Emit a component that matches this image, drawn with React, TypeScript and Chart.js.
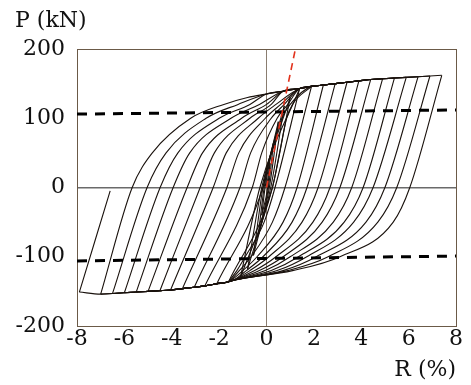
import React, { useEffect, useRef } from 'react';
import { Chart, registerables } from 'chart.js';

Chart.register(...registerables);

// ---- axes ----
const xMin = -8, xMax = 8, xStep = 2;
const yMin = -200, yMax = 200, yStep = 100;
const xTitle = 'R (%)';
const yTitle = 'P (kN)';

// ---- small initial cycles ----
const smallPosR = [0.15, 0.3, 0.5, 0.75, 1.0];
const smallPosP = [35, 65, 95, 118, 130];
const smallNegR = [-0.2, -0.35, -0.55, -0.8, -1.1];
const smallNegP = [-40, -70, -98, -118, -130];
const smallDescZeroR = [0.05, 0.08, 0.12, 0.18, 0.25];
const smallAscZeroR = [-0.06, -0.1, -0.15, -0.2, -0.28];

// ---- large cycles: positive peaks and descending (unloading) branch ----
const posPeakR = [1.4, 1.9, 2.4, 2.9, 3.4, 3.9, 4.4, 4.9, 5.4, 5.9, 6.4, 6.9, 7.4];
const posPeakP = [143, 146, 148, 150, 152, 154, 156, 157, 158, 159, 160, 161, 162];
const descZeroR = [0.36, 0.78, 1.29, 1.71, 2.18, 2.68, 3.1, 3.6, 4.08, 4.5, 5.0, 5.5, 6.05];
const descM50R = [-0.1, 0.25, 0.7, 1.08, 1.5, 1.96, 2.35, 2.82, 3.28, 3.68, 4.2, 4.7, 5.35];
const descM100R = [-0.9, -0.65, -0.4, -0.15, 0.1, 0.4, 0.7, 1.0, 1.35, 1.7, 2.1, 2.6, 3.1];
const descM120R = [-1.25, -1.15, -1.0, -0.85, -0.7, -0.5, -0.3, -0.05, 0.2, 0.45, 0.7, 0.9, 1.1];

// ---- large cycles: negative peaks and ascending (reloading) branch ----
const negPeakR = [-1.6, -2.1, -2.6, -3.05, -3.55, -4.05, -4.5, -5.0, -5.5, -6.0, -6.5, -7.0, -7.9];
const negPeakP = [-136, -139, -142, -144, -146, -148, -149, -150, -151, -152, -153, -154, -151];
const ascZeroR = [0.25, -0.15, -0.6, -1.12, -1.67, -2.25, -2.8, -3.35, -3.94, -4.49, -5.04, -5.67];
const ascP50R = [0.55, 0.2, -0.2, -0.67, -1.17, -1.7, -2.2, -2.7, -3.24, -3.74, -4.24, -4.82];
const ascP100R = [0.85, 0.65, 0.45, 0.2, -0.05, -0.35, -0.7, -1.05, -1.5, -2.0, -2.55, -3.2];
const ascP120R = [1.1, 1.0, 0.9, 0.75, 0.6, 0.4, 0.2, 0.0, -0.3, -0.7, -1.2, -1.8];
const finalReloadR = -6.6;
const finalReloadP = -5;

// ---- envelope lead-in points (before first peaks) ----
const upperLeadR = [-0.8, 0.0, 0.7];
const upperLeadP = [130, 135, 139];
const lowerLeadR = [-1.4];
const lowerLeadP = [-134];

// ---- reference lines ----
const refLineR = [-8, 8];
const upperRefP = [106, 112];
const lowerRefP = [-106, -99];
const redLineR = [0, 1.22];
const redLineP = [0, 200];

type Pt = { x: number; y: number };

function buildLoops(): Pt[][] {
  const br: Pt[][] = [];
  const upperEnv: Pt[] = upperLeadR.map((r, i) => ({ x: r, y: upperLeadP[i] }))
    .concat(posPeakR.map((r, i) => ({ x: r, y: posPeakP[i] })));
  const lowerEnv: Pt[] = lowerLeadR.map((r, i) => ({ x: r, y: lowerLeadP[i] }))
    .concat(negPeakR.map((r, i) => ({ x: r, y: negPeakP[i] })));

  let prev: Pt = { x: 0, y: 0 };
  for (let k = 0; k < smallPosR.length; k++) {
    const pk = { x: smallPosR[k], y: smallPosP[k] };
    br.push(k === 0 ? [prev, pk] : [prev, { x: smallAscZeroR[k - 1], y: 0 }, pk]);
    const nk = { x: smallNegR[k], y: smallNegP[k] };
    br.push([pk, { x: smallDescZeroR[k], y: 0 }, nk]);
    prev = nk;
  }
  br.push([prev, { x: smallAscZeroR[smallAscZeroR.length - 1], y: 0 }, { x: posPeakR[0], y: posPeakP[0] }]);

  for (let i = 0; i < posPeakR.length; i++) {
    const pk = { x: posPeakR[i], y: posPeakP[i] };
    const nk = { x: negPeakR[i], y: negPeakP[i] };
    const d: Pt[] = [pk, { x: descZeroR[i], y: 0 }, { x: descM50R[i], y: -50 },
      { x: descM100R[i], y: -100 }, { x: descM120R[i], y: -120 }];
    lowerEnv.filter(p => p.x < descM120R[i] - 0.4 && p.x > nk.x + 0.2)
      .sort((a, b) => b.x - a.x).forEach(p => d.push(p));
    d.push(nk);
    br.push(d);
    if (i < posPeakR.length - 1) {
      const nextPk = { x: posPeakR[i + 1], y: posPeakP[i + 1] };
      const a: Pt[] = [nk, { x: ascZeroR[i], y: 0 }, { x: ascP50R[i], y: 50 },
        { x: ascP100R[i], y: 100 }, { x: ascP120R[i], y: 120 }];
      upperEnv.filter(p => p.x > ascP120R[i] + 0.4 && p.x < nextPk.x - 0.2)
        .sort((u, v) => u.x - v.x).forEach(p => a.push(p));
      a.push(nextPk);
      br.push(a);
    } else {
      br.push([nk, { x: finalReloadR, y: finalReloadP }]);
    }
  }
  return br;
}

const serif = '"DejaVu Serif", "Liberation Serif", serif';
const fontSize = 22;

export default function App() {
  const ref = useRef<HTMLCanvasElement | null>(null);
  useEffect(() => {
    if (!ref.current) return;
    const loops = buildLoops();
    const datasets: any[] = [
      {
        data: redLineR.map((r, i) => ({ x: r, y: redLineP[i] })),
        showLine: true, borderColor: '#e2321c', borderWidth: 1.6, borderDash: [7, 5],
        pointRadius: 0, fill: false,
      },
      {
        data: refLineR.map((r, i) => ({ x: r, y: upperRefP[i] })),
        showLine: true, borderColor: '#000', borderWidth: 3, borderDash: [10, 8],
        pointRadius: 0, fill: false,
      },
      {
        data: refLineR.map((r, i) => ({ x: r, y: lowerRefP[i] })),
        showLine: true, borderColor: '#000', borderWidth: 3, borderDash: [10, 8],
        pointRadius: 0, fill: false,
      },
      ...loops.map(pts => ({
        data: pts, showLine: true, borderColor: '#1a120d', borderWidth: 1.1,
        pointRadius: 0, fill: false, cubicInterpolationMode: 'monotone',
      })),
    ];
    const chart = new Chart(ref.current, {
      type: 'scatter',
      data: { datasets },
      options: {
        responsive: false,
        animation: false,
        devicePixelRatio: 1,
        layout: { padding: { left: 15, right: 15, top: 0, bottom: 0 } },
        plugins: {
          legend: { display: false },
          tooltip: { enabled: false },
          title: {
            display: true, text: yTitle, align: 'start', color: '#111',
            font: { family: serif, size: fontSize, weight: 'normal', lineHeight: 1.2 },
            padding: { top: 8, bottom: 14.6 },
          },
        },
        scales: {
          x: {
            type: 'linear', min: xMin, max: xMax,
            afterFit: (s: any) => { s.height = 59; },
            ticks: { stepSize: xStep, color: '#111', padding: 0, font: { family: serif, size: fontSize } },
            grid: {
              drawTicks: false,
              color: (c: any) => c.tick && c.tick.value === 0 ? '#8a7d70' : (c.tick && Math.abs(c.tick.value) === 8 ? '#6b5a48' : 'rgba(0,0,0,0)'),
              lineWidth: 1,
            },
            border: { display: true, color: '#6b5a48', width: 1 },
            title: {
              display: true, text: xTitle, align: 'end', color: '#111',
              font: { family: serif, size: fontSize }, padding: { top: 0, bottom: 2 },
            },
          },
          y: {
            type: 'linear', min: yMin, max: yMax,
            afterFit: (s: any) => { s.width = 62; },
            ticks: { stepSize: yStep, color: '#111', padding: 12, font: { family: serif, size: fontSize } },
            grid: {
              drawTicks: false,
              color: (c: any) => c.tick && c.tick.value === 0 ? '#6a6a6a' : (c.tick && Math.abs(c.tick.value) === 200 ? '#6b5a48' : 'rgba(0,0,0,0)'),
              lineWidth: (c: any) => c.tick && c.tick.value === 0 ? 1.5 : 1,
            },
            border: { display: true, color: '#6b5a48', width: 1 },
          },
        },
      } as any,
    });
    return () => chart.destroy();
  }, []);
  return (
    <div style={{ position: 'fixed', left: 0, top: 0, width: 471, height: 385, background: '#fff' }}>
      <canvas ref={ref} width={471} height={385} />
    </div>
  );
}
